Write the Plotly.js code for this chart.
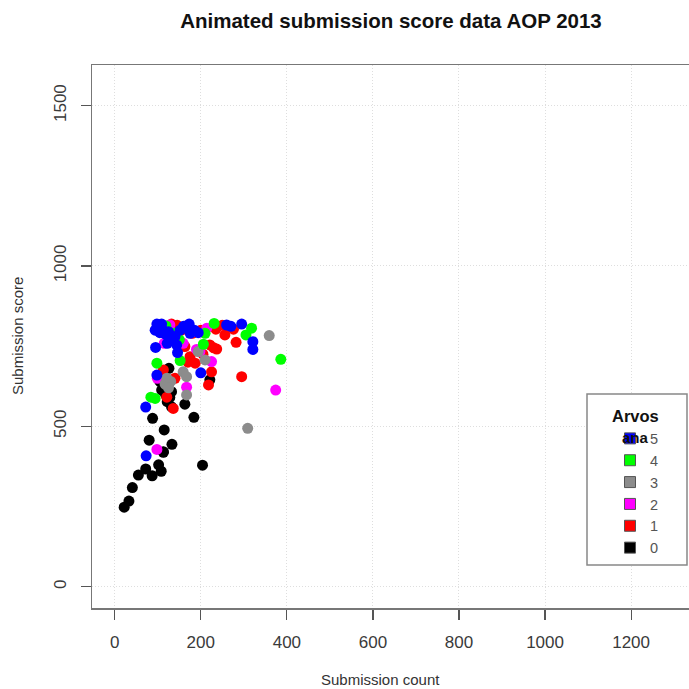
<!DOCTYPE html>
<html>
<head>
<meta charset="utf-8">
<script src="https://cdn.plot.ly/plotly-3.0.1.min.js"></script>
<style>
html,body{margin:0;padding:0;overflow:hidden;background:#fff;}
#chart{width:760px;height:689px;}
</style>
</head>
<body>
<div id="chart"></div>
<script>
// Grades (Arvosana) 0..5
var grades = ['0','1','2','3','4','5'];
var gradeColors = ['#000000','#ff0000','#ff00ff','#8c8c8c','#00ff00','#0000ff'];

// Grade 0 (black)
var x0 = [22, 33, 41, 55, 72, 87, 102, 108, 113, 80, 133, 204, 126, 109, 132, 122, 132, 163, 184, 88, 115, 113, 221, 105, 118, 128];
var y0 = [248, 267, 309, 348, 367, 346, 380, 360, 419, 457, 444, 379, 681, 613, 608, 577, 561, 569, 528, 525, 489, 421, 645, 640, 600, 590];
// Grade 1 (red)
var x1 = [132, 167, 235, 256, 276, 282, 221, 237, 175, 187, 225, 218, 295, 140, 121, 136, 163, 113, 145, 155, 180, 200, 230, 205, 250, 170, 145];
var y1 = [819, 806, 803, 785, 803, 762, 754, 741, 717, 697, 670, 629, 655, 650, 591, 556, 749, 676, 815, 800, 790, 800, 745, 725, 815, 700, 812];
// Grade 2 (magenta)
var x2 = [214, 115, 159, 198, 225, 99, 167, 374, 98, 128, 180, 190];
var y2 = [806, 759, 759, 733, 702, 650, 622, 613, 428, 816, 795, 740];
// Grade 3 (grey)
var x3 = [359, 309, 194, 210, 159, 167, 121, 117, 167, 130, 125];
var y3 = [783, 494, 733, 707, 670, 655, 650, 632, 598, 640, 620];
// Grade 4 (green)
var x4 = [119, 231, 318, 305, 386, 206, 152, 98, 84, 94, 136, 150, 210, 120];
var y4 = [813, 821, 806, 785, 709, 756, 705, 697, 591, 587, 790, 770, 790, 800];
// Grade 5 (blue)
var x5 = [98, 109, 94, 105, 117, 173, 194, 175, 260, 295, 321, 321, 95, 122, 144, 146, 200, 98, 72, 73, 152, 100, 112, 125, 140, 160, 185, 270, 130];
var y5 = [819, 819, 800, 792, 788, 819, 792, 790, 816, 819, 764, 740, 746, 759, 754, 730, 667, 660, 560, 408, 800, 805, 800, 795, 780, 812, 800, 812, 770];

var xs = [x0, x1, x2, x3, x4, x5];
var ys = [y0, y1, y2, y3, y4, y5];

var xTicks = [0, 200, 400, 600, 800, 1000, 1200];
var yTicks = [0, 500, 1000, 1500];

var traces = [];
for (var i = 0; i < grades.length; i++) {
  traces.push({
    type: 'scatter', mode: 'markers', x: xs[i], y: ys[i], name: grades[i],
    showlegend: false, hoverinfo: 'x+y',
    marker: {color: gradeColors[i], size: 11, line: {width: 0}}
  });
}
// legend entries (square keys)
for (var j = 0; j < grades.length; j++) {
  traces.push({
    type: 'scatter', mode: 'markers', x: [null], y: [null], name: grades[j],
    showlegend: true,
    marker: {color: gradeColors[j], symbol: 'square', size: 11, line: {width: 1, color: '#555'}}
  });
}

var W = 760, H = 689;
var L = 92, R = 20, T = 65, B = 81;
var pw = W - L - R, ph = H - T - B;
function px2paperX(px){ return (px - L) / pw; }
function px2paperY(py){ return (H - B - py) / ph; }

var FONT = 'Liberation Sans, Arial, sans-serif';
var axisCommon = {
  showline: true, mirror: true, linecolor: '#777', linewidth: 1.5,
  ticks: 'outside', ticklen: 10, tickwidth: 1.2, tickcolor: '#555',
  showgrid: true, gridcolor: '#dedede', griddash: '1px,2px', gridwidth: 1,
  zeroline: false,
  tickfont: {family: FONT, size: 17, color: '#3a3a3a'},
  ticklabelstandoff: 8
};

var layout = {
  width: W, height: H,
  margin: {l: L, r: R, t: T, b: B, pad: 0},
  paper_bgcolor: '#ffffff', plot_bgcolor: '#ffffff',
  font: {family: FONT},
  title: {
    text: '<b>Animated submission score data AOP 2013</b>',
    font: {family: FONT, size: 20.5, color: '#111'},
    xref: 'container', x: 391 / W, xanchor: 'center',
    yref: 'container', y: 1 - 21 / H, yanchor: 'middle'
  },
  xaxis: Object.assign({}, axisCommon, {
    range: [-52.8, 1453], tickvals: xTicks, ticktext: xTicks.map(String)
  }),
  yaxis: Object.assign({}, axisCommon, {
    range: [-66.4, 1626.7], tickvals: yTicks, ticktext: yTicks.map(String), tickangle: -90
  }),
  showlegend: true,
  legend: {
    x: px2paperX(610), xanchor: 'left',
    y: px2paperY(401), yanchor: 'top',
    bgcolor: 'rgba(0,0,0,0)', borderwidth: 0,
    traceorder: 'reversed',
    font: {family: FONT, size: 14.5, color: '#555'},
    title: {text: '<b>Arvos</b>', font: {family: FONT, size: 16.5, color: '#111'}},
    itemclick: false
  },
  shapes: [{
    type: 'rect', xref: 'paper', yref: 'paper', layer: 'above',
    x0: px2paperX(587), x1: px2paperX(687), y0: px2paperY(565), y1: px2paperY(394),
    fillcolor: '#ffffff', line: {color: '#888', width: 1.5}
  }],
  annotations: [
    {text: 'Submission count', xref: 'paper', yref: 'paper', x: px2paperX(380), y: px2paperY(679),
     xanchor: 'center', yanchor: 'middle', showarrow: false,
     font: {family: FONT, size: 15, color: '#333'}},
    {text: 'Submission score', xref: 'paper', yref: 'paper', x: px2paperX(18), y: px2paperY(336),
     xanchor: 'center', yanchor: 'middle', showarrow: false, textangle: -90,
     font: {family: FONT, size: 15, color: '#333'}},
    {text: '<b>ana</b>', xref: 'paper', yref: 'paper', x: px2paperX(635), y: px2paperY(437),
     xanchor: 'center', yanchor: 'middle', showarrow: false,
     font: {family: FONT, size: 15, color: '#111'}}
  ]
};

Plotly.newPlot('chart', traces, layout, {displayModeBar: false, staticPlot: true});
</script>
</body>
</html>
